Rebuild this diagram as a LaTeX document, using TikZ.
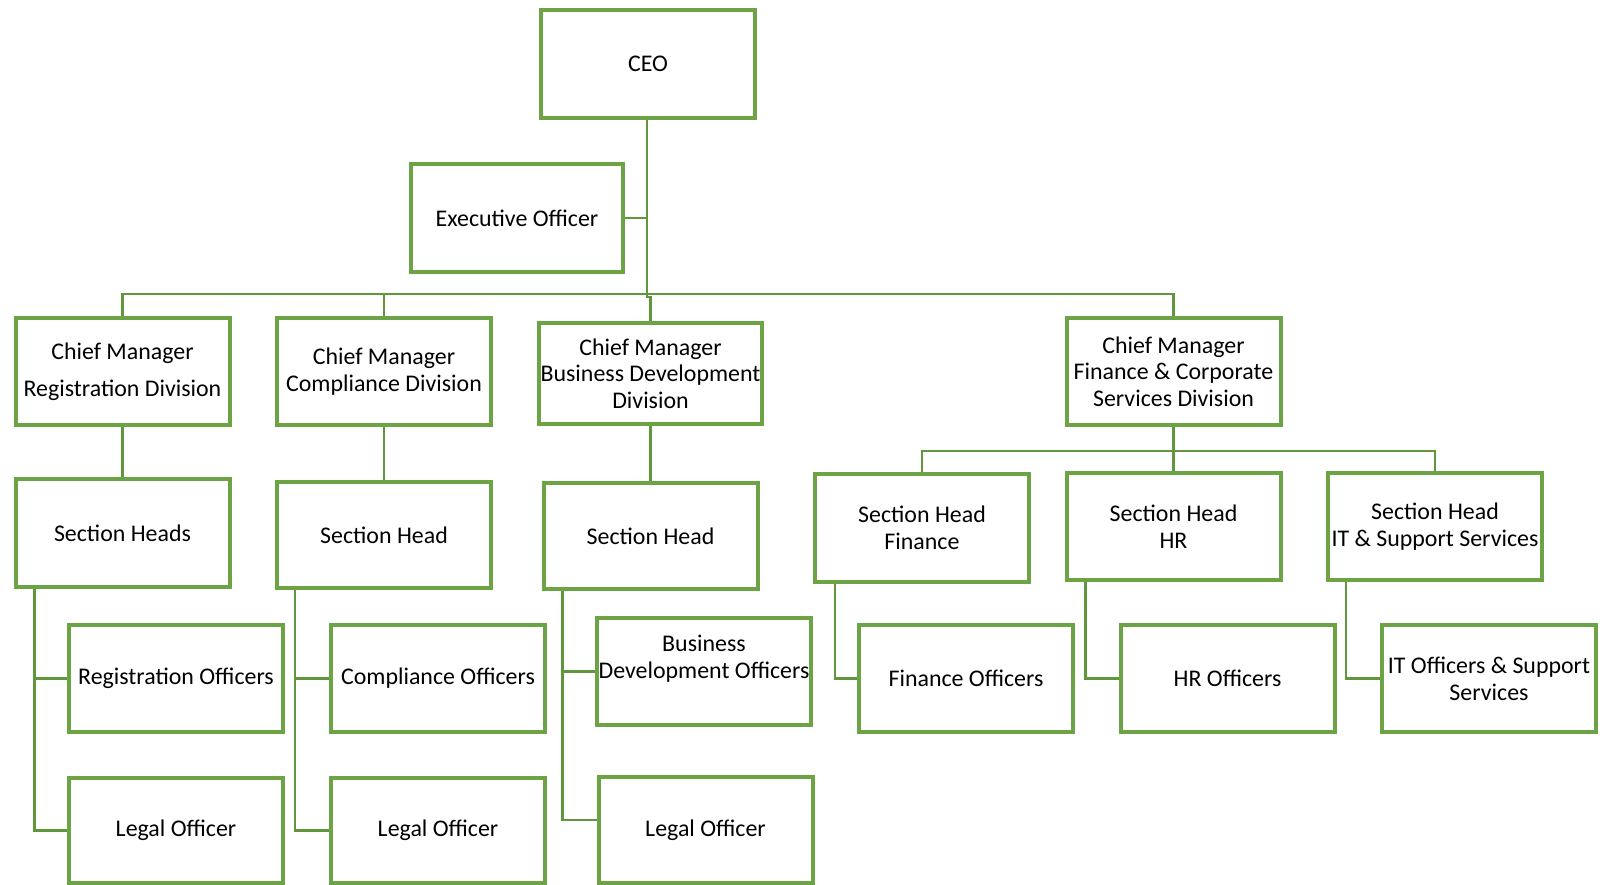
\documentclass[tikz,border=0pt]{standalone}
\usepackage{fontspec}
\setmainfont{Carlito}
\usetikzlibrary{calc}
\definecolor{boxgreen}{RGB}{108,163,69}
\definecolor{linegreen}{RGB}{96,150,60}
\begin{document}
\begin{tikzpicture}[x=1pt,y=-1pt,
  box/.style={draw=boxgreen, line width=4pt, fill=white, rectangle,
    minimum width=214pt, minimum height=107pt, inner sep=1pt, align=center,
    font=\fontsize{23.9}{26.7}\selectfont},
  link/.style={draw=linegreen, line width=2.6pt}]
\useasboundingbox (0,0) rectangle (1600,885);

% top levels
\node[box, minimum height=108pt] (ceo) at (648,64) {CEO};
\node[box, minimum width=212pt, minimum height=108pt] (exec) at (517,218) {Executive Officer};

% chief managers
\node[box, font=\fontsize{23.9}{37}\selectfont] (cmreg) at (122.5,371.5) {Chief Manager\\Registration Division};
\node[box] (cmcomp) at (384,371.5) {Chief Manager\\Compliance Division};
\node[box, minimum width=223pt, minimum height=101pt] (cmbd) at (650.5,373.5) {Chief Manager\\Business Development\\Division};
\node[box] (cmfin) at (1173.5,371.5) {Chief Manager\\Finance \& Corporate\\Services Division};

% section heads
\node[box, minimum height=108pt] (shreg) at (122.5,533) {Section Heads};
\node[box, minimum height=106pt] (shcomp) at (384,535) {Section Head};
\node[box, minimum height=106pt] (shbd) at (650.5,536) {Section Head};
\node[box, minimum height=108pt] (shfin) at (922,528) {Section Head\\Finance};
\node[box] (shhr) at (1173.5,526.5) {Section Head\\HR};
\node[box] (shit) at (1435,526.5) {Section Head\\IT \& Support Services};

% officers
\node[box] (regoff) at (176,678.5) {Registration Officers};
\node[box] (compoff) at (438,678.5) {Compliance Officers};
\node[box] (bdoff) at (704,671.5) {};
\node[align=center, font=\fontsize{23.9}{26.7}\selectfont] (bdofftxt) at (704,658.5) {Business\\Development Officers};
\node[box] (finoff) at (966,678.5) {Finance Officers};
\node[box] (hroff) at (1227.5,678.5) {HR Officers};
\node[box] (itoff) at (1489,678.5) {IT Officers \& Support\\Services};

% legal officers
\node[box, minimum height=105pt] (legreg) at (176,830.5) {Legal Officer};
\node[box, minimum height=105pt] (legcomp) at (438,830.5) {Legal Officer};
\node[box, minimum height=106pt] (legbd) at (705.5,830) {Legal Officer};

% connectors
\coordinate (bus) at (647,294);
\coordinate (finbus) at (1173.5,451);
\begin{scope}[on background layer/.try]
\draw[link] (ceo.south -| bus) -- (bus);
\draw[link] (exec.east) -- (exec.east -| bus);
\draw[link] (cmreg.north) |- (bus) -| (cmfin.north);
\draw[link] (cmcomp.north) -- (cmcomp.north |- bus);
\draw[link] (bus) -- ++(0,3) -| (cmbd.north);

\draw[link] (cmreg.south) -- (shreg.north);
\draw[link] (cmcomp.south) -- (shcomp.north);
\draw[link] (cmbd.south) -- (shbd.north);
\draw[link] (cmfin.south) -- (finbus);
\draw[link] (shfin.north) |- (finbus) -| (shit.north);
\draw[link] (finbus) -- (shhr.north);

\draw[link] ([xshift=21pt]shreg.south west) |- (regoff.west);
\draw[link] ([xshift=21pt]shreg.south west) |- (legreg.west);
\draw[link] ([xshift=20pt]shcomp.south west) |- (compoff.west);
\draw[link] ([xshift=20pt]shcomp.south west) |- (legcomp.west);
\draw[link] ([xshift=21pt]shbd.south west) |- (bdoff.west);
\draw[link] ([xshift=21pt]shbd.south west) |- ([yshift=10pt]legbd.west);
\draw[link] ([xshift=22pt]shfin.south west) |- (finoff.west);
\draw[link] ([xshift=21pt]shhr.south west) |- (hroff.west);
\draw[link] ([xshift=20pt]shit.south west) |- (itoff.west);
\end{scope}
\end{tikzpicture}
\end{document}
